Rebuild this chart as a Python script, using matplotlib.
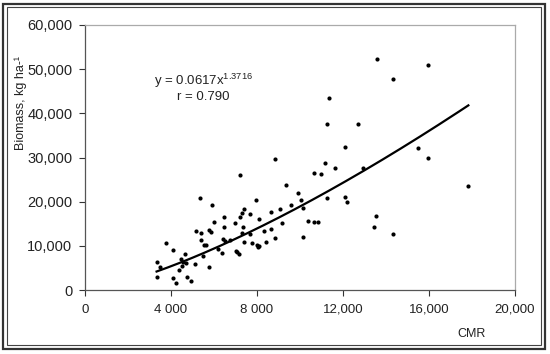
import numpy as np
import matplotlib.pyplot as plt
from matplotlib.patches import Rectangle
from matplotlib.ticker import FixedLocator, FixedFormatter

plt.rcParams['font.family'] = ['Liberation Sans', 'DejaVu Sans']
plt.rcParams['mathtext.fontset'] = 'custom'
plt.rcParams['mathtext.rm'] = 'Liberation Sans'
plt.rcParams['mathtext.it'] = 'Liberation Sans'

# Data (CMR vs biomass, kg/ha)
cmr = [3330, 3370, 3480, 3760, 4070, 4100, 4220, 4360, 4470, 4530,
       4560, 4640, 4690, 4750, 4930, 5100, 5180, 5370, 5400, 5410,
       5520, 5650, 5490, 5770, 5770, 5850, 5890, 6000, 6190, 6390,
       6420, 6450, 6460, 6500, 6730, 6960, 7010, 7070, 7160, 7190,
       7190, 7310, 7390, 7350, 7380, 7310, 7660, 7690, 7760, 7970,
       8000, 8040, 8090, 8090, 8310, 8430, 8630, 8630, 8820, 8820,
       9080, 9140, 9360, 9590, 9900, 10060, 10130, 10130, 10360, 10670,
       10860, 10630, 10980, 11180, 11260, 11240, 11370, 11630, 12080, 12710,
       12080, 12170, 12950, 13450, 13550, 13580, 14310, 14340, 15470, 15960,
       15960, 17830]
biomass = [6270, 3010, 5200, 10570, 9120, 2790, 1590, 4600, 6950, 5430,
           6400, 8080, 6110, 2940, 1970, 5820, 13290, 20830, 12900, 11390,
           10120, 10120, 7700, 5200, 13520, 13130, 19180, 15400, 9350, 8380,
           11610, 14260, 16530, 11170, 11250, 15240, 8830, 8540, 8080, 16450,
           25970, 17370, 18300, 14260, 10870, 12840, 17270, 12750, 10640, 20310,
           10120, 9740, 9890, 16070, 13430, 10940, 17590, 13740, 29660, 11700,
           18270, 15100, 23770, 19240, 22030, 20380, 18500, 12070, 15690, 15460,
           15460, 26560, 26330, 28690, 37580, 20830, 43540, 27690, 32310, 37510,
           21060, 19990, 27690, 14200, 16820, 52370, 12610, 47700, 32220, 50940,
           29950, 23550]

# power fit y = a x^b
coef_a = 0.0617
coef_b = 1.3716

xticks = [0, 4000, 8000, 12000, 16000, 20000]
xtick_labels = ['0', '4 000', '8 000', '12,000', '16,000', '20,000']
yticks = [0, 10000, 20000, 30000, 40000, 50000, 60000]
ytick_labels = ['0', '10,000', '20,000', '30,000', '40,000', '50,000', '60,000']

fig = plt.figure(figsize=(5.5, 3.54), dpi=100)
ax = fig.add_axes([85/550, 1 - 290/354, 430/550, 265/354])

ax.scatter(cmr, biomass, s=9, color='black', zorder=3, linewidths=0)

x_fit = np.linspace(min(cmr), max(cmr), 200)
ax.plot(x_fit, coef_a * x_fit ** coef_b, color='black', lw=1.6, zorder=4)

ax.set_xlim(0, 20000)
ax.set_ylim(0, 60000)
ax.xaxis.set_major_locator(FixedLocator(xticks))
ax.xaxis.set_major_formatter(FixedFormatter(xtick_labels))
ax.yaxis.set_major_locator(FixedLocator(yticks))
ax.yaxis.set_major_formatter(FixedFormatter(ytick_labels))
ax.tick_params(direction='out', length=4, width=0.8, colors='#333333',
               pad=5, labelcolor='#222222')
ax.tick_params(axis='y', labelsize=10.5)
ax.tick_params(axis='x', labelsize=9.5, pad=6)

for s in ['left', 'bottom']:
    ax.spines[s].set_color('#555555')
    ax.spines[s].set_linewidth(0.9)
for s in ['top', 'right']:
    ax.spines[s].set_color('#aaaaaa')
    ax.spines[s].set_linewidth(0.9)

ax.text(5500, 47300, r'y = 0.0617x$^{1.3716}$', ha='center', va='center',
        fontsize=9.5, color='#222222')
ax.text(5500, 43600, 'r = 0.790', ha='center', va='center',
        fontsize=9.5, color='#222222')

fig.text(21/550, 1 - 103/354, 'Biomass, kg ha-¹', rotation=90,
         ha='center', va='center', fontsize=9, color='#222222')
fig.text(472/550, 1 - 334/354, 'CMR', ha='center', va='center',
         fontsize=9, color='#222222')

# double frame around the figure
fig.patches.append(Rectangle((3/550, 5/354), 542/550, 345/354,
                             transform=fig.transFigure, fill=False,
                             edgecolor='#333333', lw=1.6))
fig.patches.append(Rectangle((7/550, 9/354), 534/550, 338/354,
                             transform=fig.transFigure, fill=False,
                             edgecolor='#444444', lw=0.8))

fig.savefig('out.png', dpi=100)
